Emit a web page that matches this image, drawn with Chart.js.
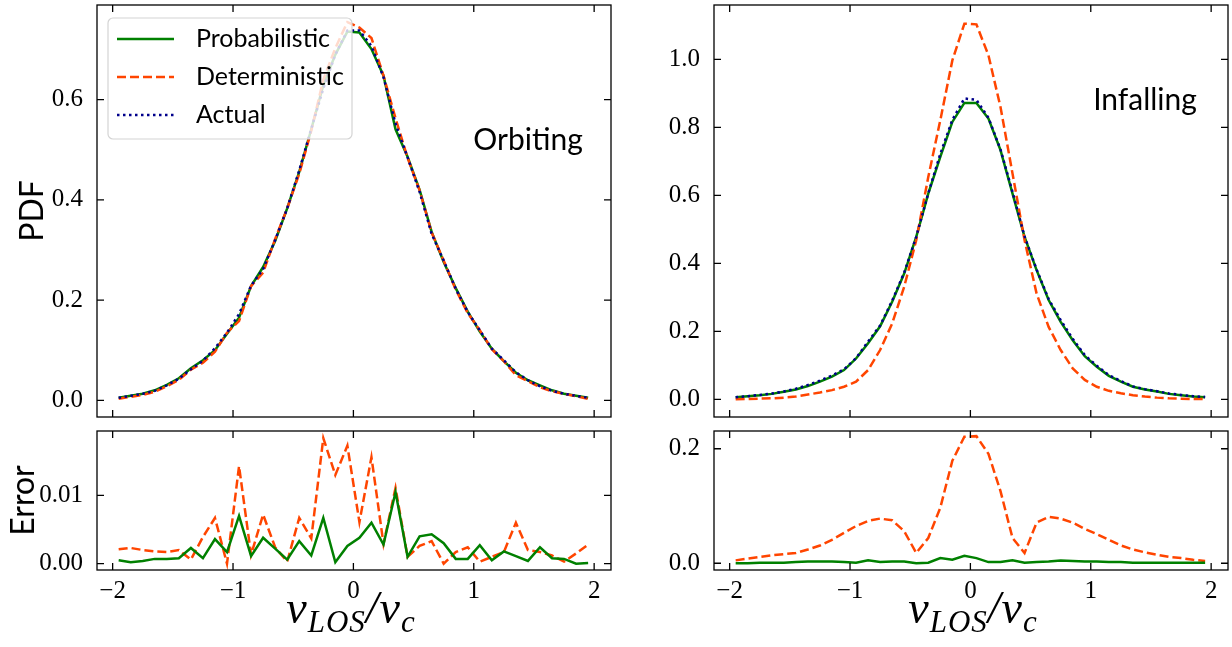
<!DOCTYPE html>
<html lang="en">
<head>
<meta charset="UTF-8">
<title>LOS velocity PDFs</title>
<script src="https://cdn.jsdelivr.net/npm/chart.js"></script>
<style>
  html, body { margin: 0; padding: 0; background: #fff; }
  body { width: 1232px; height: 647px; position: relative; overflow: hidden; }
  canvas.panel { position: absolute; left: 0; top: 0; }
  .xlab { position: absolute; top: 585px; transform: translateX(-50%);
          font-family: "Liberation Serif", serif; font-style: italic; font-size: 46px;
          color: #000; white-space: nowrap; line-height: 1; letter-spacing: 1px; }
  .xlab sub { font-size: 31px; vertical-align: -9px; }
</style>
</head>
<body>
<canvas id="orbPdf" class="panel" width="1232" height="647"></canvas>
<canvas id="orbErr" class="panel" width="1232" height="647"></canvas>
<canvas id="infPdf" class="panel" width="1232" height="647"></canvas>
<canvas id="infErr" class="panel" width="1232" height="647"></canvas>
<div class="xlab" style="left:351px">v<sub>LOS</sub>/v<sub>c</sub></div>
<div class="xlab" style="left:973px">v<sub>LOS</sub>/v<sub>c</sub></div>

<script>
// bin centres of v_LOS / v_c
const vBins = [-1.95, -1.85, -1.75, -1.65, -1.55, -1.45, -1.35, -1.25, -1.15, -1.05,
               -0.95, -0.85, -0.75, -0.65, -0.55, -0.45, -0.35, -0.25, -0.15, -0.05,
                0.05,  0.15,  0.25,  0.35,  0.45,  0.55,  0.65,  0.75,  0.85,  0.95,
                1.05,  1.15,  1.25,  1.35,  1.45,  1.55,  1.65,  1.75,  1.85,  1.95];

// orbiting
const orbActual = [0.005, 0.009, 0.013, 0.019, 0.030, 0.043, 0.062, 0.079, 0.104, 0.135,
                   0.172, 0.229, 0.262, 0.320, 0.383, 0.459, 0.542, 0.622, 0.690, 0.738,
                   0.738, 0.707, 0.645, 0.552, 0.485, 0.416, 0.332, 0.279, 0.223, 0.176,
                   0.140, 0.103, 0.080, 0.056, 0.040, 0.028, 0.019, 0.013, 0.009, 0.005];
const orbProb = [0.005, 0.009, 0.013, 0.020, 0.031, 0.044, 0.064, 0.080, 0.100, 0.133,
                 0.165, 0.228, 0.266, 0.318, 0.383, 0.456, 0.541, 0.629, 0.690, 0.736,
                 0.734, 0.701, 0.648, 0.541, 0.486, 0.420, 0.336, 0.276, 0.224, 0.177,
                 0.137, 0.103, 0.078, 0.055, 0.040, 0.030, 0.020, 0.013, 0.009, 0.005];
const orbDet = [0.003, 0.007, 0.011, 0.017, 0.028, 0.041, 0.061, 0.075, 0.097, 0.135,
                0.158, 0.228, 0.255, 0.322, 0.383, 0.452, 0.538, 0.640, 0.703, 0.755,
                0.744, 0.723, 0.648, 0.563, 0.484, 0.419, 0.335, 0.279, 0.221, 0.174,
                0.140, 0.102, 0.078, 0.050, 0.038, 0.026, 0.018, 0.013, 0.008, 0.003];
const orbErrProb = [0.0005, 0.0002, 0.0004, 0.0007, 0.0007, 0.0008, 0.0023, 0.0008, 0.0036, 0.0017,
                    0.0070, 0.0011, 0.0038, 0.0022, 0.0006, 0.0033, 0.0012, 0.0067, 0.0002, 0.0026,
                    0.0038, 0.0060, 0.0028, 0.0105, 0.0010, 0.0040, 0.0043, 0.0030, 0.0007, 0.0007,
                    0.0027, 0.0005, 0.0018, 0.0011, 0.0004, 0.0024, 0.0008, 0.0007, 0.0000, 0.0001];
const orbErrDet = [0.0021, 0.0023, 0.0020, 0.0018, 0.0017, 0.0020, 0.0006, 0.0039, 0.0067, 0.0000,
                   0.0143, 0.0013, 0.0072, 0.0024, 0.0003, 0.0067, 0.0037, 0.0184, 0.0130, 0.0173,
                   0.0061, 0.0156, 0.0029, 0.0111, 0.0010, 0.0026, 0.0033, 0.0000, 0.0017, 0.0024,
                   0.0003, 0.0010, 0.0017, 0.0060, 0.0020, 0.0017, 0.0012, 0.0003, 0.0015, 0.0028];

// infalling
const infActual = [0.006, 0.009, 0.013, 0.017, 0.023, 0.031, 0.042, 0.055, 0.070, 0.088,
                   0.121, 0.170, 0.217, 0.290, 0.373, 0.478, 0.606, 0.722, 0.822, 0.885,
                   0.881, 0.828, 0.735, 0.610, 0.479, 0.382, 0.295, 0.233, 0.178, 0.130,
                   0.099, 0.071, 0.054, 0.038, 0.030, 0.024, 0.017, 0.013, 0.009, 0.007];
const infProb = [0.006, 0.009, 0.012, 0.016, 0.022, 0.029, 0.039, 0.052, 0.067, 0.086,
                 0.120, 0.165, 0.215, 0.287, 0.370, 0.478, 0.605, 0.713, 0.816, 0.872,
                 0.872, 0.826, 0.733, 0.605, 0.478, 0.380, 0.292, 0.228, 0.174, 0.127,
                 0.096, 0.069, 0.052, 0.037, 0.029, 0.023, 0.016, 0.012, 0.008, 0.006];
const infDet = [0.000, 0.001, 0.002, 0.003, 0.005, 0.008, 0.014, 0.020, 0.027, 0.037,
                0.052, 0.086, 0.145, 0.223, 0.331, 0.468, 0.654, 0.821, 0.997, 1.105,
                1.103, 1.012, 0.860, 0.664, 0.468, 0.311, 0.213, 0.145, 0.091, 0.057,
                0.037, 0.025, 0.018, 0.012, 0.008, 0.005, 0.003, 0.002, 0.001, 0.001];
const infErrProb = [0.000, 0.000, 0.001, 0.001, 0.001, 0.002, 0.003, 0.003, 0.003, 0.002,
                    0.001, 0.005, 0.002, 0.003, 0.003, 0.000, 0.001, 0.009, 0.006, 0.013,
                    0.009, 0.002, 0.002, 0.005, 0.001, 0.002, 0.003, 0.005, 0.004, 0.003,
                    0.003, 0.002, 0.002, 0.001, 0.001, 0.001, 0.001, 0.001, 0.001, 0.001];
const infErrDet = [0.005, 0.008, 0.011, 0.014, 0.016, 0.018, 0.024, 0.031, 0.041, 0.053,
                   0.065, 0.074, 0.078, 0.075, 0.056, 0.018, 0.044, 0.097, 0.179, 0.221,
                   0.222, 0.191, 0.126, 0.044, 0.018, 0.071, 0.081, 0.078, 0.071, 0.060,
                   0.051, 0.041, 0.031, 0.024, 0.019, 0.015, 0.011, 0.009, 0.006, 0.004];

// tick positions
const xTicks = [-2, -1, 0, 1, 2];
const orbPdfTicks = [0, 0.2, 0.4, 0.6];
const orbErrTicks = [0, 0.01];
const infPdfTicks = [0, 0.2, 0.4, 0.6, 0.8, 1.0];
const infErrTicks = [0, 0.2];

const SERIF = '"Liberation Serif", serif';
const SANS = 'Lato, sans-serif';

const styles = {
  prob:   { label: 'Probabilistic', borderColor: 'green',     borderWidth: 2.5, borderDash: [] },
  det:    { label: 'Deterministic', borderColor: 'orangered', borderWidth: 2.5, borderDash: [9, 4] },
  actual: { label: 'Actual',        borderColor: '#00008b',   borderWidth: 2.5, borderDash: [2.5, 3.5] }
};

function series(kind, ys) {
  return Object.assign({
    data: vBins.map((x, i) => ({ x: x, y: ys[i] })),
    pointRadius: 0, fill: false, tension: 0
  }, styles[kind]);
}

function fmt(v, d) {
  const s = Math.abs(v).toFixed(d);
  return v < 0 ? '\u2212' + s : s;
}

// box, inward ticks on all four sides, and in-axes text
const framePlugin = {
  id: 'frame',
  afterDatasetsDraw(chart, args, o) {
    const ctx = chart.ctx, a = chart.chartArea;
    const x = chart.scales.x, y = chart.scales.y;
    ctx.save();
    ctx.strokeStyle = '#000';
    ctx.lineWidth = 1.3;
    ctx.beginPath();
    xTicks.forEach(v => {
      const p = x.getPixelForValue(v);
      ctx.moveTo(p, a.bottom); ctx.lineTo(p, a.bottom - 7);
      ctx.moveTo(p, a.top); ctx.lineTo(p, a.top + 7);
    });
    o.yTicks.forEach(v => {
      const p = y.getPixelForValue(v);
      ctx.moveTo(a.left, p); ctx.lineTo(a.left + 7, p);
      ctx.moveTo(a.right, p); ctx.lineTo(a.right - 7, p);
    });
    ctx.stroke();
    ctx.strokeRect(a.left, a.top, a.right - a.left, a.bottom - a.top);

    if (o.note) {
      ctx.fillStyle = '#000';
      ctx.font = '30px ' + SANS;
      ctx.textAlign = 'center';
      ctx.textBaseline = 'middle';
      ctx.fillText(o.note.text, o.note.x, o.note.y);
    }

    if (o.legend) {
      const L = o.legend;
      ctx.fillStyle = 'rgba(255,255,255,0.8)';
      ctx.strokeStyle = '#d4d4d4';
      ctx.lineWidth = 1.2;
      ctx.beginPath();
      ctx.roundRect(L.x, L.y, L.w, L.h, 5);
      ctx.fill();
      ctx.stroke();
      ['prob', 'det', 'actual'].forEach((k, i) => {
        const s = styles[k], yy = L.y + 21 + i * 38;
        ctx.strokeStyle = s.borderColor;
        ctx.lineWidth = s.borderWidth;
        ctx.setLineDash(s.borderDash);
        ctx.beginPath();
        ctx.moveTo(L.x + 9, yy); ctx.lineTo(L.x + 66, yy);
        ctx.stroke();
        ctx.setLineDash([]);
        ctx.fillStyle = '#000';
        ctx.font = '25px ' + SANS;
        ctx.textAlign = 'left';
        ctx.textBaseline = 'middle';
        ctx.fillText(s.label, L.x + 88, yy);
      });
    }
    ctx.restore();
  }
};

function panel(id, box, datasets, yMin, yMax, yTicks, yDigits, yTitle, titleX, showX, extra) {
  const titleSize = 32;
  const padLeft = Math.max(2, titleX - titleSize * 0.6);
  const xHeight = showX ? 44 : 0;
  return new Chart(document.getElementById(id), {
    type: 'line',
    data: { datasets: datasets },
    options: {
      responsive: false,
      animation: false,
      events: [],
      layout: { padding: { left: padLeft, top: box.top, right: 1232 - box.right,
                           bottom: 647 - box.bottom - xHeight } },
      plugins: {
        legend: { display: false },
        tooltip: { enabled: false },
        frame: Object.assign({ yTicks: yTicks }, extra)
      },
      scales: {
        x: {
          type: 'linear', min: -2.13, max: 2.14, display: showX,
          grid: { display: false, drawTicks: false },
          border: { display: false },
          afterBuildTicks: s => { s.ticks = xTicks.map(v => ({ value: v })); },
          afterFit: s => { s.height = xHeight; s.paddingLeft = 0; s.paddingRight = 0; },
          ticks: { padding: 6, maxRotation: 0, autoSkip: false, color: '#000',
                   font: { family: SERIF, size: 25 }, callback: v => fmt(v, 0) }
        },
        y: {
          type: 'linear', min: yMin, max: yMax,
          grid: { display: false, drawTicks: false },
          border: { display: false },
          afterBuildTicks: s => { s.ticks = yTicks.map(v => ({ value: v })); },
          afterFit: s => { s.width = box.left - padLeft; s.paddingTop = 0; s.paddingBottom = 0; },
          ticks: { padding: 14, color: '#000', font: { family: SERIF, size: 25 },
                   callback: v => fmt(v, yDigits) },
          title: yTitle ? { display: true, text: yTitle, color: '#000', padding: 0,
                            font: { family: SANS, size: titleSize } } : { display: false }
        }
      }
    },
    plugins: [framePlugin]
  });
}

panel('orbPdf', { left: 97, right: 611, top: 5, bottom: 417 },
  [series('actual', orbActual), series('det', orbDet), series('prob', orbProb)],
  -0.0333, 0.789, orbPdfTicks, 1, 'PDF', 33, false,
  { note: { text: 'Orbiting', x: 528, y: 140 }, legend: { x: 108, y: 18, w: 244, h: 121 } });

panel('orbErr', { left: 97, right: 611, top: 431, bottom: 570 },
  [series('prob', orbErrProb), series('det', orbErrDet)],
  -0.00093, 0.01945, orbErrTicks, 2, 'Error', 24, true, {});

panel('infPdf', { left: 714, right: 1228, top: 5, bottom: 417 },
  [series('actual', infActual), series('det', infDet), series('prob', infProb)],
  -0.052, 1.16, infPdfTicks, 1, null, 0, false,
  { note: { text: 'Infalling', x: 1145, y: 100 } });

panel('infErr', { left: 714, right: 1228, top: 431, bottom: 570 },
  [series('prob', infErrProb), series('det', infErrDet)],
  -0.0118, 0.231, infErrTicks, 1, null, 0, true, {});
</script>
</body>
</html>
